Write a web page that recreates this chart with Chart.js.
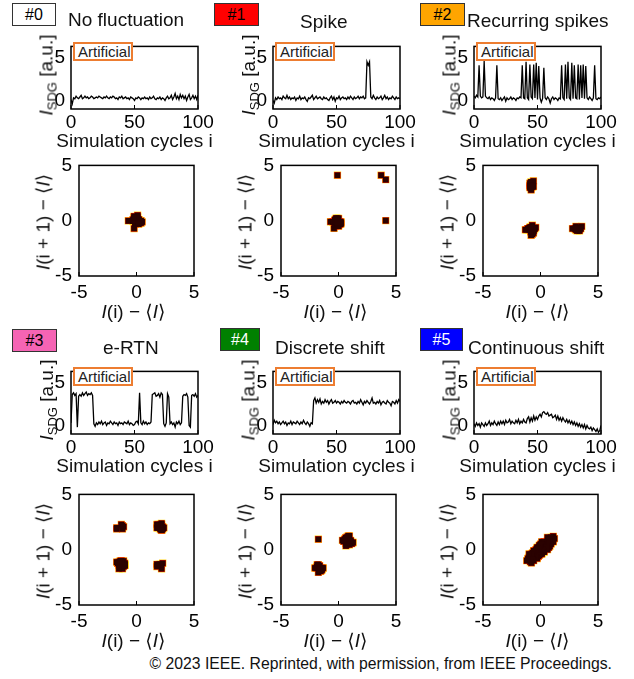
<!DOCTYPE html>
<html>
<head>
<meta charset="utf-8">
<script src="https://cdn.jsdelivr.net/npm/chart.js@4.4.0/dist/chart.umd.min.js"></script>
<style>
  body { margin: 0; background: #fff; }
  #fig { position: relative; width: 634px; height: 679px; overflow: hidden;
         font-family: 'Liberation Sans', Arial, 'DejaVu Sans', sans-serif; color: #111; }
  #fig canvas { position: absolute; }
  .t { position: absolute; white-space: nowrap; font-size: 19px; line-height: 19px; }
  .t sub { font-size: 13px; vertical-align: -4px; line-height: 0; }
  .rot { transform: translate(-50%, -50%) rotate(-90deg); }
  .badge { position: absolute; border: 1px solid #333; box-sizing: border-box;
           font-size: 16px; text-align: center; }
  .art { position: absolute; border: 2px solid #ed7d31; background: #fff; box-sizing: border-box;
         width: 60px; height: 19px; font-size: 15px; line-height: 15px; padding-left: 3px; color: #222; }
</style>
</head>
<body>
<div id="fig"></div>
<script>
// x positions of the simulation cycles
const cycles = Array.from({ length: 101 }, (_, i) => i);
const cycleTicks = [0, 50, 100];
const currentTicks = [0, 5];
const lagTicks = [-5, 0, 5];

// I_SDG per simulation cycle
const noFluctuation = [
  0.1, -0.4, 0.3, 0.2, 0.5, 0.3, 0.2, 0.4, 0.6, 0.2,
  0.3, 0.5, 0.3, 0.4, 0.2, 0.3, 0.5, 0.4, 0.2, 0.3,
  0.4, 0.3, 0.5, 0.4, 0.3, 0.2, 0.4, 0.3, 0.5, 0.3,
  0.2, 0.4, 0.3, 0.5, 0.4, 0.2, 0.3, 0.1, 0.4, 0.3,
  0.5, 0.2, 0.3, 0.4, 0.2, 0.3, 0.1, 0.4, 0.3, 0.2,
  0.0, 0.3, 0.2, 0.4, 0.3, 0.1, 0.3, 0.2, 0.4, 0.2,
  0.3, 0.1, 0.4, 0.2, 0.3, 0.5, 0.2, 0.1, 0.3, 0.2,
  0.4, 0.1, 0.3, 0.2, 0.0, 0.3, 0.5, 0.2, 0.3, 0.6,
  0.1, 0.4, 0.8, 0.2, 0.5, 0.1, 0.7, 0.3, 0.6, 0.2,
  0.5, 0.0, 0.4, 0.7, 0.1, 0.3, 0.6, 0.2, 0.5, 0.1,
  0.6
];
const spike = [
  0.0, -0.3, 0.3, 0.1, 0.4, 0.2, 0.3, 0.1, 0.5, 0.3,
  0.2, 0.6, 0.2, 0.4, 0.1, 0.3, 0.2, 0.4, 0.0, 0.3,
  0.2, 0.5, 0.1, 0.3, 0.2, 0.4, 0.1, -0.1, 0.3, 0.2,
  0.4, 0.6, 0.1, 0.3, 0.5, 0.2, 0.3, 0.4, 0.2, 0.1,
  0.4, 0.2, 0.3, 0.1, 0.0, 0.3, 0.5, 0.1, 0.4, -0.1,
  0.3, 0.2, 0.5, 0.1, 0.3, 0.4, 0.2, 0.3, 0.1, 0.4,
  0.2, 0.5, 0.3, 0.1, 0.4, 0.2, 0.3, 0.5, 0.2, 0.4,
  0.3, 0.5, 0.2, 0.3, 4.5, 4.1, 4.5, 0.4, 0.2, 0.6,
  0.3, 0.1, 0.4, 0.2, 0.3, 0.5, 0.1, 0.3, 0.6, 0.2,
  0.4, 0.1, 0.3, 0.2, 0.5, 0.3, 0.1, 0.4, 0.2, 0.3,
  0.2
];
const recurringSpikes = [
  0.5, 0.3, 0.6, 0.4, 4.1, 0.5, 0.3, 0.4, 4.6, 0.5,
  0.3, 0.2, 0.4, 0.1, 0.3, 0.2, 0.0, 0.3, 4.1, 0.2,
  0.1, 0.3, 0.0, 0.2, 0.4, -0.1, 0.3, 0.1, 0.2, 0.4,
  0.1, 0.3, 0.2, 0.0, 0.3, 0.2, 0.4, 0.3, 4.1, 0.3,
  0.2, 4.5, 0.3, 0.1, 4.2, 0.4, 0.2, 4.2, 0.3, 4.4,
  0.1, 4.0, 0.3, -0.2, 0.2, 3.8, 0.3, 0.1, 0.4, 0.2,
  -0.3, 0.2, 0.4, 0.1, 0.3, 0.2, 0.0, 0.3, 0.2, 4.1,
  0.3, 0.1, 4.2, 0.2, 4.5, 0.3, 0.1, 4.4, 0.2, 4.1,
  0.3, 0.2, 4.2, 0.1, 4.1, 0.3, 4.2, 0.2, 4.0, 0.3,
  0.1, 0.4, 0.2, 0.0, 0.3, 4.1, 0.2, 0.1, 0.3, 0.2,
  0.4
];
const eRTN = [
  0.3, 3.6, 3.8, 3.5, 3.7, -0.2, 3.4, 3.6, 3.4, 3.8,
  3.5, 3.7, 3.9, 3.5, 3.7, 3.6, 3.8, 3.5, 0.2, -0.1,
  0.3, 0.1, 0.4, 0.2, 0.5, 0.1, 0.3, 0.4, 0.0, 0.3,
  0.2, 0.5, 0.3, 0.1, 0.4, 0.2, 0.3, 0.0, 0.4, 0.2,
  0.3, 0.1, 0.4, 0.3, 0.2, 0.5, 0.1, 0.3, 0.2, 0.0,
  0.1, 0.4, 0.5, 0.2, 3.8, 0.3, 0.1, 0.5, 0.2, 0.4,
  0.1, 0.3, 0.2, 0.4, 3.6, 3.7, 3.8, 3.4, 3.5, 3.7,
  3.3, 3.8, 3.6, 0.2, -0.1, 0.3, 3.7, 3.3, 0.2, 0.4,
  0.1, 0.3, -0.2, 0.4, 0.2, 0.5, 0.1, 0.3, 3.4, 3.6,
  3.5, 3.7, 3.3, 0.0, -0.2, 3.5, 3.6, 3.4, 3.7, 3.3,
  3.5
];
const discreteShift = [
  0.1, 0.6, 0.3, 0.5, 0.2, 0.4, 0.1, 0.3, 0.5, 0.2,
  0.4, 0.0, 0.3, 0.2, 0.5, 0.1, 0.4, 0.3, 0.2, 0.5,
  0.3, 0.1, 0.4, 0.2, 0.6, 0.3, 0.1, 0.4, 0.2, -0.1,
  0.3, 0.2, 2.9, 3.2, 2.6, 3.0, 2.7, 3.1, 2.5, 2.8,
  2.6, 3.0, 2.7, 2.9, 2.5, 2.8, 3.0, 2.6, 2.7, 2.9,
  2.6, 2.8, 2.7, 2.5, 2.8, 2.6, 2.9, 2.7, 2.6, 2.8,
  2.7, 2.5, 2.8, 2.9, 2.6, 2.7, 2.5, 2.8, 2.6, 3.0,
  2.7, 2.4, 2.8, 2.6, 2.9, 2.7, 2.5, 2.8, 3.2, 2.6,
  2.7, 2.5, 2.8, 2.6, 2.9, 2.4, 2.7, 2.8, 2.6, 2.5,
  2.9, 2.7, 2.6, 2.3, 2.8, 2.7, 2.5, 2.9, 2.6, 3.0,
  2.8
];
const continuousShift = [
  0.2, -0.1, 0.3, 0.0, 0.2, -0.2, 0.3, 0.1, -0.1, 0.3,
  0.0, 0.2, 0.5, 0.0, 0.3, 0.1, 0.5, 0.2, 0.0, 0.4,
  0.1, 0.5, 0.2, 0.5, 0.1, 0.6, 0.3, 0.4, 0.7, 0.2,
  0.5, 0.3, 0.2, 0.6, 0.3, 0.7, 0.2, 0.5, 0.3, 0.7,
  0.4, 0.3, 0.8, 1.0, 0.4, 0.9, 0.5, 1.1, 0.6, 1.0,
  0.7, 1.1, 1.3, 1.0, 1.5, 1.6, 1.4, 1.3, 1.5, 1.1,
  1.2, 1.3, 0.9, 1.0, 1.2, 0.7, 1.1, 0.6, 0.9, 0.5,
  0.9, 0.6, 0.4, 0.7, 0.3, 0.6, 0.2, 0.5, 0.1, 0.4,
  0.0, 0.3, -0.1, 0.2, -0.2, 0.1, -0.3, 0.1, -0.4, 0.0,
  -0.3, -0.4, -0.2, -0.6, -0.3, -0.5, -0.7, -0.4, -0.8, -0.6,
  0.0
];

const panelTags = ['#0', '#1', '#2', '#3', '#4', '#5'];
const panelNames = ['No fluctuation', 'Spike', 'Recurring spikes', 'e-RTN', 'Discrete shift', 'Continuous shift'];
const panelSeries = [noFluctuation, spike, recurringSpikes, eRTN, discreteShift, continuousShift];

const fig = document.getElementById('fig');
const FONT = "'Liberation Sans', Arial, sans-serif";
const tickFont = { family: FONT, size: 19 };
Chart.defaults.color = '#000';
Chart.defaults.font.family = FONT;

// closed box + short inward ticks on the bottom axis
const framePlugin = {
  id: 'frame',
  afterDraw(chart) {
    const { ctx, chartArea: a, scales } = chart;
    ctx.save();
    ctx.strokeStyle = '#000';
    ctx.lineWidth = 1.5;
    ctx.strokeRect(a.left, a.top, a.right - a.left, a.bottom - a.top);
    ctx.lineWidth = 1;
    scales.x.ticks.forEach(t => {
      const px = scales.x.getPixelForValue(t.value);
      ctx.beginPath();
      ctx.moveTo(px, a.bottom);
      ctx.lineTo(px, a.bottom - 4);
      ctx.stroke();
    });
    ctx.restore();
  }
};

function addCanvas(left, top, w, h) {
  const c = document.createElement('canvas');
  c.width = w; c.height = h;
  c.style.left = left + 'px'; c.style.top = top + 'px';
  c.style.width = w + 'px'; c.style.height = h + 'px';
  fig.appendChild(c);
  return c;
}

function addText(html, left, top, cls, style) {
  const d = document.createElement('div');
  d.className = cls || 't';
  d.innerHTML = html;
  d.style.left = left + 'px';
  d.style.top = top + 'px';
  if (style) Object.assign(d.style, style);
  fig.appendChild(d);
  return d;
}

function fixedTicks(list) {
  return scale => { scale.ticks = list.map(v => ({ value: v })); };
}

function seriesChart(L, T, values) {
  const W = 127, H = 68, padL = 40, padT = 12, padR = 24, padB = 30;
  const c = addCanvas(L - padL, T - padT, W + padL + padR, H + padT + padB);
  new Chart(c, {
    type: 'line',
    data: {
      datasets: [{
        data: values.map((v, i) => ({ x: cycles[i], y: v })),
        borderColor: '#000',
        borderWidth: 1.3,
        pointRadius: 0,
        tension: 0
      }]
    },
    options: {
      responsive: false,
      animation: false,
      layout: { padding: { top: padT, right: padR, left: 0, bottom: 0 } },
      plugins: { legend: { display: false }, tooltip: { enabled: false } },
      scales: {
        x: {
          type: 'linear', min: 0, max: 100,
          afterBuildTicks: fixedTicks(cycleTicks),
          afterFit: s => { s.height = padB; },
          grid: { display: false, drawTicks: false },
          border: { display: false },
          ticks: { font: tickFont, padding: 2, maxRotation: 0 }
        },
        y: {
          min: -1, max: 6.3,
          afterBuildTicks: fixedTicks(currentTicks),
          afterFit: s => { s.width = padL; },
          grid: { display: false, drawTicks: false },
          border: { display: false },
          ticks: { font: tickFont, padding: 6 }
        }
      }
    },
    plugins: [framePlugin]
  });
  addText('Artificial', L + 2, T + 1, 'art');
  addText('Simulation cycles i', L + W / 2, T + H + 21.5, 't', { transform: 'translateX(-50%)' });
  addText('<i>I</i><sub>SDG</sub> [a.u.]', L - 25, T + H / 2, 't rot');
}

function lagChart(L, T, values) {
  const S = 115, padL = 40, padT = 14, padR = 16, padB = 32;
  const mean = values.reduce((a, b) => a + b, 0) / values.length;
  const pairs = values.slice(0, -1).map((v, i) => ({ x: v - mean, y: values[i + 1] - mean }));
  const layer = (r, color, order) => ({
    data: pairs, pointStyle: 'rect', pointRadius: r, pointHoverRadius: r,
    pointBackgroundColor: color, pointBorderWidth: 0, order: order
  });
  const c = addCanvas(L - padL, T - padT, S + padL + padR, S + padT + padB);
  new Chart(c, {
    type: 'scatter',
    data: {
      datasets: [layer(4.0, '#2a0200', 1), layer(4.6, '#d81400', 2), layer(5.2, '#ffd21a', 3)]
    },
    options: {
      responsive: false,
      animation: false,
      layout: { padding: { top: padT, right: padR, left: 0, bottom: 0 } },
      plugins: { legend: { display: false }, tooltip: { enabled: false } },
      scales: {
        x: {
          min: -5, max: 5,
          afterBuildTicks: fixedTicks(lagTicks),
          afterFit: s => { s.height = padB; },
          grid: { display: false, drawTicks: false },
          border: { display: false },
          ticks: { font: tickFont, padding: 5, maxRotation: 0 }
        },
        y: {
          min: -5, max: 5,
          afterBuildTicks: fixedTicks(lagTicks),
          afterFit: s => { s.width = padL; },
          grid: { display: false, drawTicks: false },
          border: { display: false },
          ticks: { font: tickFont, padding: 7 }
        }
      }
    },
    plugins: [framePlugin]
  });
  addText('<i>I</i>(i) − ⟨<i>I</i>⟩', L + S / 2 - 3, T + S + 25.5, 't', { transform: 'translateX(-50%)' });
  addText('<i>I</i>(i + 1) − ⟨<i>I</i>⟩', L - 36, T + S / 2 + 3, 't rot');
}

// layout of the 3 x 2 grid of panel pairs
const seriesLeft = [71, 273, 474];
const lagLeft = [79, 281, 483];
const seriesTop = [41, 366];
const lagTop = [161, 490];
const badgeBox = [[12, 3, 44], [214, 3, 45], [420, 3, 45], [12, 329, 45], [220, 328, 40], [420, 328, 43]];
const badgeFill = ['#ffffff', '#ff0000', '#ffa500', '#f564b4', '#008000', '#0000ff'];
const badgeInk = ['#000', '#000', '#000', '#000', '#fff', '#fff'];
const titlePos = [[68, 9.5], [300, 11.5], [467, 10.5], [103, 337.5], [275, 337.5], [468, 337.5]];

panelSeries.forEach((values, k) => {
  const col = k % 3, row = Math.floor(k / 3);
  seriesChart(seriesLeft[col], seriesTop[row], values);
  lagChart(lagLeft[col], lagTop[row], values);
  const [bx, by, bw] = badgeBox[k];
  addText(panelTags[k], bx, by, 'badge', {
    width: bw + 'px', height: '23px', lineHeight: '21px',
    background: badgeFill[k], color: badgeInk[k]
  });
  addText(panelNames[k], titlePos[k][0], titlePos[k][1], 't');
});

addText('© 2023 IEEE. Reprinted, with permission, from IEEE Proceedings.', 0, 656, 't',
  { fontSize: '15.75px', lineHeight: '16px', width: '612px', textAlign: 'right' });
</script>
</body>
</html>
